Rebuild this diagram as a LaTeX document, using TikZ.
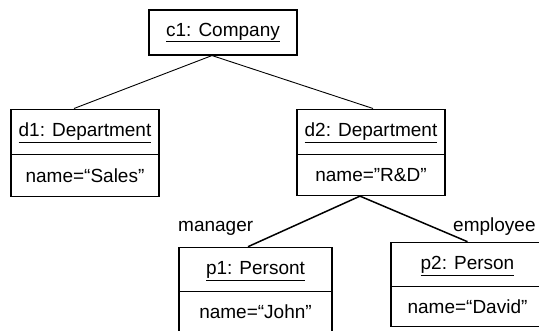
\documentclass[tikz,border=0pt]{standalone}
\usepackage{fontspec}
\setmainfont{Liberation Sans}
\usetikzlibrary{shapes.multipart}
\tikzset{
  obj/.style= {draw, line width=1.1pt, minimum width=148pt, minimum height=45pt, inner sep=0pt},
  sobj/.style= {draw, line width=1.1pt, rectangle split, rectangle split parts=2,
    minimum width=148pt, inner xsep=0pt, inner ysep=13.25pt, text height=14pt, text depth=4pt},
  link/.style= {line width=0.9pt},
  role/.style= {inner sep=0pt, anchor=base west},
}

\begin{document}
\begin{tikzpicture}[x=1pt, y=-1pt, font=\fontsize{19pt}{22pt}\selectfont]
  \path [use as bounding box, clip] (0,0) rectangle (539,330);
  \node [obj] (c1) at (223,32.5) {\underline{c1: Company}} ;
  \node [sobj, anchor=north] (d1) at (85,108.5) {\underline{d1: Department}\nodepart{two}name=“Sales”} ;
  \node [sobj, anchor=north] (d2) at (371,108.5) {\underline{d2: Department}\nodepart{two}name=”R\&D”} ;
  \node [sobj, anchor=north, minimum width=153pt, inner ysep=12.6pt] (p1) at (255.5,246.7) {\underline{p1: Persont}\nodepart{two}name=“John”} ;
  \node [sobj, anchor=north, minimum width=153pt, inner ysep=12.6pt] (p2) at (467.5,241.7) {\underline{p2: Person}\nodepart{two}name=“David”} ;
  \node [role] (mgr) at (178,231) {manager} ;
  \node [role] (emp) at (453,231) {employee} ;

  \draw [link] ([xshift=-11pt]c1.south) -- ([xshift=-11pt]d1.north) ;
  \draw [link] ([xshift=-11pt]c1.south) -- ([xshift=2pt]d2.north) ;
  \draw [link, line width=1.5pt] ([xshift=-11pt]d2.south) -- ([xshift=-7.5pt]p1.north) ;
  \draw [link, line width=1.5pt] ([xshift=-11pt]d2.south) -- (p2.north) ;
\end{tikzpicture}
\end{document}
